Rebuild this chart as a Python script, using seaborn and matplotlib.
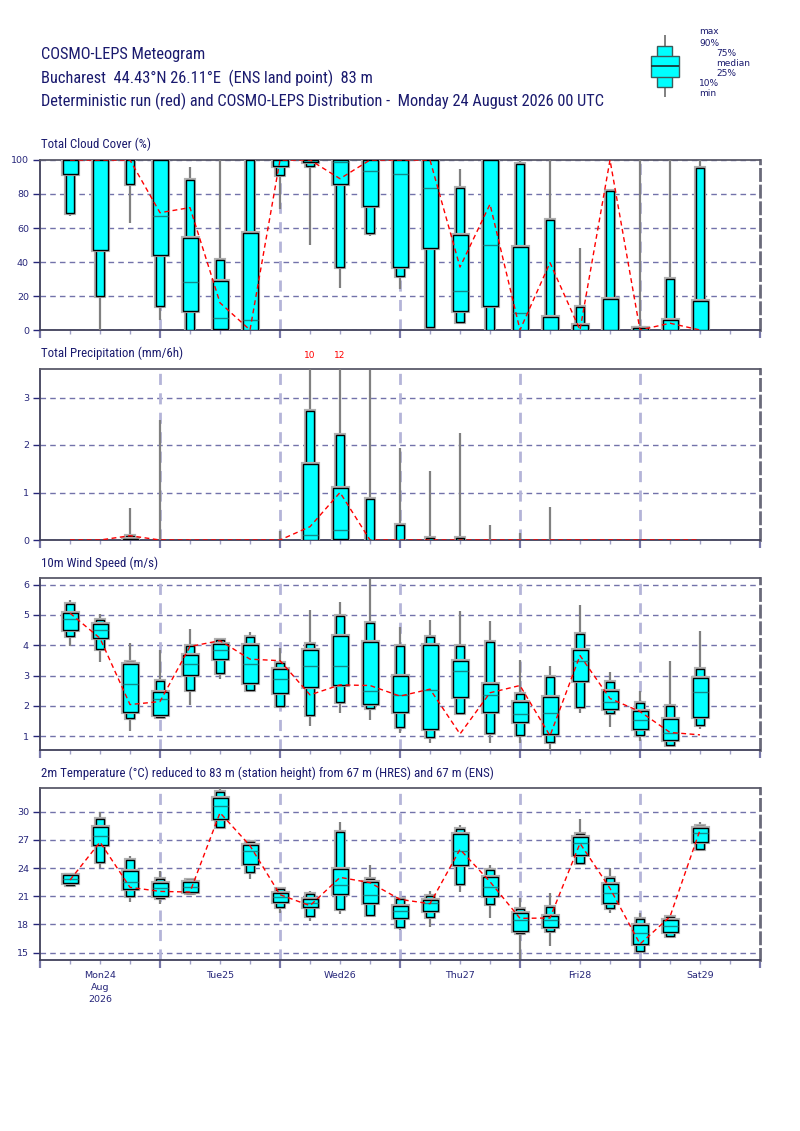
import numpy as np
import matplotlib
matplotlib.use('Agg')
import matplotlib.pyplot as plt
import matplotlib.patheffects as pe
from matplotlib import font_manager
from matplotlib.ticker import FixedLocator, FixedFormatter
import seaborn as sns

# ---------------- data ----------------
hours = list(range(6, 133, 6))
day_boundaries = list(range(0, 145, 24))
day_label_hours = [12, 36, 60, 84, 108, 132]
day_labels = ['Mon24\nAug\n2026', 'Tue25', 'Wed26', 'Thu27', 'Fri28', 'Sat29']

# Total cloud cover (%)
cloud_min = [67, 0, 63, 6, 0, 0, 0, 71, 50, 25, 55, 24, 1, 5, 0, 0, 0, 0, 0, 0, 0, 0]
cloud_p10 = [69, 20, 86, 14, 0, 0, 0, 91, 96.5, 37, 57, 32, 1.6, 5, 0, 0, 0, 0, 0, 0, 0, 0]
cloud_p25 = [92, 47, 100, 44, 11, 0.5, 0, 96.5, 98.6, 86, 73, 37, 48, 11, 14, 0, 0, 0, 0, 0, 0, 0]
cloud_med = [100, 100, 100, 67, 28, 7, 6, 100, 100, 98.6, 93.6, 92, 83.4, 23, 50, 10, 0, 0, 0, 0, 0, 0]
cloud_p75 = [100, 100, 100, 100, 54, 29, 57, 100, 100, 100, 100, 100, 100, 55.6, 100, 48.7, 7.4, 2.7, 18.5, 1, 6, 16.8]
cloud_p90 = [100, 100, 100, 100, 88, 41, 100, 100, 100, 100, 100, 100, 100, 83.8, 100, 97.5, 64.7, 13.8, 82, 1, 30, 95]
cloud_max = [100, 100, 100, 100, 96, 100, 100, 100, 100, 100, 100, 100, 100, 94.5, 100, 100, 100, 48, 82, 100, 100, 100]
cloud_det = [100, 100, 100, 69, 72, 16, 0, 100, 100, 89, 100, 100, 100, 37, 74, 0, 39.6, 0, 100, 0, 4, 0]

# Total precipitation (mm/6h)
prec_min = [0] * 22
prec_p10 = [0] * 22
prec_p25 = [0, 0, 0, 0, 0, 0, 0, 0, 0, 0.03, 0, 0, 0, 0, 0, 0, 0, 0, 0, 0, 0, 0]
prec_med = [0, 0, 0, 0, 0, 0, 0, 0, 0.1, 0.21, 0, 0, 0, 0, 0, 0, 0, 0, 0, 0, 0, 0]
prec_p75 = [0, 0, 0.015, 0, 0, 0, 0, 0, 1.61, 1.09, 0, 0, 0, 0, 0, 0, 0, 0, 0, 0, 0, 0]
prec_p90 = [0, 0, 0.08, 0, 0, 0, 0, 0, 2.71, 2.22, 0.855, 0.32, 0.035, 0.035, 0, 0, 0, 0, 0, 0, 0, 0]
prec_max = [0, 0, 0.67, 2.52, 0.02, 0, 0, 0.2, 10, 12, 3.58, 1.93, 1.45, 2.26, 0.32, 0.15, 0.69, 0, 0, 0, 0, 0]
prec_det = [0, 0, 0.09, 0, 0, 0, 0, 0, 0.28, 1.0, 0, 0, 0, 0, 0, 0, 0, 0, 0, 0, 0, 0]

# 10m wind speed (m/s)
wind_min = [3.99, 3.43, 1.18, 1.64, 2.02, 2.88, 2.52, 1.97, 1.33, 1.75, 1.53, 1.11, 0.78, 1.75, 0.76, 0.78, 0.50, 1.75, 1.29, 0.85, 0.70, 1.22]
wind_p10 = [4.29, 3.87, 1.60, 1.64, 2.52, 3.08, 2.52, 2.00, 1.71, 2.14, 1.93, 1.31, 0.96, 1.75, 1.09, 1.03, 0.81, 1.96, 1.75, 1.03, 0.70, 1.36]
wind_p25 = [4.50, 4.23, 1.78, 1.71, 3.03, 3.54, 2.74, 2.43, 2.61, 2.68, 2.05, 1.78, 1.23, 2.29, 1.78, 1.47, 1.06, 2.82, 1.88, 1.24, 0.87, 1.63]
wind_med = [4.86, 4.50, 2.71, 2.21, 3.37, 3.83, 3.37, 2.90, 3.33, 3.33, 2.49, 2.34, 2.52, 3.15, 2.35, 1.72, 1.75, 3.49, 2.13, 1.52, 1.11, 2.45]
wind_p75 = [5.06, 4.70, 3.37, 2.47, 3.69, 4.05, 4.01, 3.22, 3.85, 4.29, 4.11, 2.99, 4.00, 3.48, 2.71, 2.11, 2.28, 3.84, 2.48, 1.83, 1.58, 2.92]
wind_p90 = [5.36, 4.82, 3.45, 2.81, 3.98, 4.18, 4.26, 3.40, 4.05, 4.97, 4.75, 3.97, 4.26, 3.97, 4.11, 2.39, 2.96, 4.36, 2.80, 2.10, 2.00, 3.21]
wind_max = [5.50, 5.03, 4.07, 3.85, 4.53, 4.23, 4.43, 3.90, 5.17, 5.43, 6.20, 4.60, 4.82, 5.12, 4.79, 3.52, 3.33, 5.33, 3.10, 2.50, 3.48, 4.47]
wind_det = [5.06, 4.23, 2.04, 2.14, 3.96, 4.15, 3.54, 3.49, 2.36, 2.69, 2.67, 2.32, 2.55, 1.07, 2.43, 2.67, 1.01, 3.66, 2.24, 1.81, 1.12, 1.04]

# 2m temperature (deg C)
temp_min = [22.23, 23.97, 20.43, 20.18, 21.31, 28.12, 22.80, 19.18, 18.37, 19.08, 19.00, 17.41, 17.77, 21.42, 18.65, 14.30, 15.71, 24.57, 19.18, 15.18, 16.81, 25.78]
temp_p10 = [22.23, 24.65, 20.99, 20.78, 21.31, 28.40, 23.58, 19.82, 18.90, 19.61, 19.00, 17.70, 18.76, 22.30, 20.18, 17.06, 17.30, 24.57, 19.75, 15.18, 16.81, 25.99]
temp_p25 = [22.45, 26.42, 21.74, 21.03, 21.49, 29.18, 24.40, 20.35, 19.89, 21.28, 20.25, 18.65, 19.43, 24.33, 21.03, 17.34, 17.70, 25.35, 20.32, 15.92, 17.23, 26.77]
temp_med = [22.87, 27.41, 22.48, 21.84, 22.02, 30.60, 25.82, 20.89, 20.32, 22.16, 21.10, 19.47, 20.25, 25.78, 22.02, 18.48, 18.48, 26.63, 21.38, 17.13, 17.84, 27.70]
temp_p75 = [23.30, 28.40, 23.69, 22.45, 22.48, 31.42, 26.42, 21.31, 20.71, 23.94, 22.48, 20.00, 20.60, 27.59, 23.01, 19.26, 18.94, 27.34, 22.34, 17.94, 18.44, 28.30]
temp_p90 = [23.30, 29.18, 24.86, 22.80, 22.73, 32.06, 26.81, 21.74, 21.21, 27.87, 22.80, 20.67, 21.03, 28.16, 23.79, 19.61, 19.89, 27.62, 22.94, 18.55, 18.76, 28.51]
temp_max = [23.37, 30.00, 25.28, 23.69, 22.94, 32.48, 26.99, 22.02, 21.56, 28.94, 24.29, 20.67, 21.56, 28.55, 24.29, 20.78, 21.31, 29.18, 23.97, 19.18, 18.90, 28.94]
temp_det = [22.73, 26.77, 21.95, 21.52, 21.45, 29.89, 26.38, 21.17, 20.00, 23.01, 22.45, 20.67, 20.21, 25.99, 22.55, 18.65, 18.69, 26.63, 21.84, 15.92, 18.83, 28.05]

# ---------------- style ----------------
sns.set_theme(style='white')


def pick(fams):
    for f in fams:
        try:
            font_manager.findfont(f, fallback_to_default=False)
            return f
        except Exception:
            pass
    return 'DejaVu Sans'


NARROW = pick(['Liberation Sans Narrow', 'Roboto Condensed', 'Liberation Sans'])
plt.rcParams['font.family'] = ['DejaVu Sans']

NAVY = '#1a1a6e'
TICKC = '#26267a'
GRID = '#7272aa'
VGRID = '#b4b4d8'
SPINE = '#40405a'
CYAN = '#00ffff'
WHISK = '#808080'
MEDC = '#138a8a'

W_W = 3.0   # wide box width (hours)
W_N = 1.6   # narrow box width (hours)

FW, FH = 800, 1131
fig = plt.figure(figsize=(8, 11.31), dpi=100)


def fx(px):
    return px / FW


def fy(py):
    return 1 - py / FH


def make_ax(top, bottom):
    return fig.add_axes([fx(40), fy(bottom), fx(720), (bottom - top) / FH])


halo = [pe.Stroke(linewidth=3.0, foreground='#b0b0b0'), pe.Normal()]


def draw_panel(ax, mn, p10, p25, med, p75, p90, mx, det, ylim, yticks, last=False):
    x = np.array(hours, dtype=float)
    mn, p10, p25, med, p75, p90, mx = [np.array(a, dtype=float) for a in (mn, p10, p25, med, p75, p90, mx)]
    ax.set_xlim(0, 144)
    ax.set_ylim(*ylim)
    ax.hlines(yticks, 0, 144, colors=GRID, lw=1.0, linestyles=(0, (4, 3)), zorder=1)
    ax.vlines(day_boundaries[1:-1], ylim[0], ylim[1], colors=VGRID, lw=2.0,
              linestyles=(0, (4, 3)), zorder=1.5)
    # whiskers
    ax.vlines(x, mn, mx, color=WHISK, lw=1.6, zorder=3)
    # 10-90 narrow box
    h = p90 - p10
    m = h > 0
    bars = ax.bar(x[m], h[m], bottom=p10[m], width=W_N, color=CYAN, edgecolor='black',
                  linewidth=1.0, zorder=4)
    for b in bars:
        b.set_path_effects(halo)
    # 25-75 wide box
    h = p75 - p25
    m = h > 0
    bars = ax.bar(x[m], h[m], bottom=p25[m], width=W_W, color=CYAN, edgecolor='black',
                  linewidth=1.0, zorder=5)
    for b in bars:
        b.set_path_effects(halo)
    # median
    m = (med > p25) & (med < p75)
    ax.hlines(med[m], x[m] - W_W / 2, x[m] + W_W / 2, color=MEDC, lw=1.0, zorder=6)
    # deterministic run
    sns.lineplot(x=x, y=det, ax=ax, color='red', lw=1.0, zorder=7)
    ax.lines[-1].set_dashes((3.5, 2.5))
    ax.set_xlabel('')
    ax.set_ylabel('')
    # labels for values beyond axis top
    top = ylim[1]
    for xi, v in zip(x, mx):
        if v > top + 0.01:
            ax.text(xi, top + (top - ylim[0]) * 0.055, f'{v:g}', color='red', fontsize=6.5,
                    ha='center', va='bottom', clip_on=False)
    # axes styling
    for s in ax.spines.values():
        s.set_color(SPINE)
        s.set_linewidth(1.3)
    ax.spines['right'].set_color('#6a6a7a')
    ax.spines['right'].set_linewidth(2.0)
    ax.spines['right'].set_linestyle((0, (4, 2)))
    ax.spines['top'].set_color('#5a5a6a')
    ax.set_yticks(yticks)
    ax.set_yticklabels([f'{t:g}' for t in yticks])
    ax.tick_params(axis='y', left=True, direction='out', length=5, width=1.0, color=TICKC,
                   labelsize=6.8, labelcolor=TICKC, pad=3)
    ax.xaxis.set_major_locator(FixedLocator(day_boundaries))
    minor = [hh for hh in range(6, 144, 6) if hh % 24]
    ax.xaxis.set_minor_locator(FixedLocator(minor))
    ax.tick_params(axis='x', which='major', bottom=True, direction='out', length=6, width=1.6,
                   color='#7878aa')
    ax.tick_params(axis='x', which='minor', bottom=True, direction='out', length=3, width=1.0,
                   color='#a0a0c8')
    ax.xaxis.set_major_formatter(FixedFormatter([''] * len(day_boundaries)))
    if last:
        labs = [day_labels[day_label_hours.index(hh)] if hh in day_label_hours else '' for hh in minor]
        ax.xaxis.set_minor_formatter(FixedFormatter(labs))
        ax.tick_params(axis='x', which='minor', labelsize=6.8, labelcolor=TICKC, pad=5)
        for t in ax.xaxis.get_minorticklabels():
            t.set_linespacing(1.45)
    else:
        ax.xaxis.set_minor_formatter(FixedFormatter([''] * len(minor)))
    ax.grid(False)


ax1 = make_ax(160, 330)
draw_panel(ax1, cloud_min, cloud_p10, cloud_p25, cloud_med, cloud_p75, cloud_p90, cloud_max, cloud_det,
           (0, 100), [0, 20, 40, 60, 80, 100])
ax2 = make_ax(369, 540)
draw_panel(ax2, prec_min, prec_p10, prec_p25, prec_med, prec_p75, prec_p90, prec_max, prec_det,
           (0, 3.6), [0, 1, 2, 3])
ax3 = make_ax(578, 750)
draw_panel(ax3, wind_min, wind_p10, wind_p25, wind_med, wind_p75, wind_p90, wind_max, wind_det,
           (0.54, 6.22), [1, 2, 3, 4, 5, 6])
ax4 = make_ax(788, 960)
draw_panel(ax4, temp_min, temp_p10, temp_p25, temp_med, temp_p75, temp_p90, temp_max, temp_det,
           (14.22, 32.52), [15, 18, 21, 24, 27, 30], last=True)

# panel titles
titles = [(144, 'Total Cloud Cover (%)'), (353, 'Total Precipitation (mm/6h)'),
          (563, '10m Wind Speed (m/s)'),
          (773, '2m Temperature (°C) reduced to 83 m (station height) from 67 m (HRES) and 67 m (ENS)')]
for py, t in titles:
    fig.text(fx(41), fy(py), t, fontsize=9.3, color=NAVY, va='center', ha='left',
             family=[NARROW, 'DejaVu Sans'])

# header
header = [(55, 'COSMO-LEPS Meteogram'),
          (78, 'Bucharest  44.43°N 26.11°E  (ENS land point)  83 m'),
          (101, 'Deterministic run (red) and COSMO-LEPS Distribution -  Monday 24 August 2026 00 UTC')]
for py, t in header:
    fig.text(fx(41), fy(py), t, fontsize=11.8, color=NAVY, va='center', ha='left',
             family=[NARROW, 'DejaVu Sans'])

# legend glyph (pixel coordinates)
lax = fig.add_axes([fx(640), fy(105), fx(50), 80 / FH])
lax.set_xlim(640, 690)
lax.set_ylim(105, 25)
lax.axis('off')
lax.vlines([664.5], [35], [97], color=WHISK, lw=1.4, zorder=1)
lax.add_patch(plt.Rectangle((657, 46), 15, 41, facecolor=CYAN, edgecolor='#3c5a5a', lw=1.0, zorder=2))
lax.add_patch(plt.Rectangle((650.5, 55.7), 28.5, 21.6, facecolor=CYAN, edgecolor='#3c5a5a', lw=1.0, zorder=3))
lax.hlines([66.3], [650.5], [679], color='#1a2a2a', lw=1.2, zorder=4)
leg = [(699, 32, 'max'), (699, 43, '90%'), (716, 53, '75%'), (716, 63, 'median'),
       (716, 73, '25%'), (699, 84, '10%'), (699, 94, 'min')]
for px, py, t in leg:
    fig.text(fx(px), fy(py), t, fontsize=6.5, color=NAVY, va='center', ha='left')

fig.savefig('out.png', dpi=100, facecolor='white')
